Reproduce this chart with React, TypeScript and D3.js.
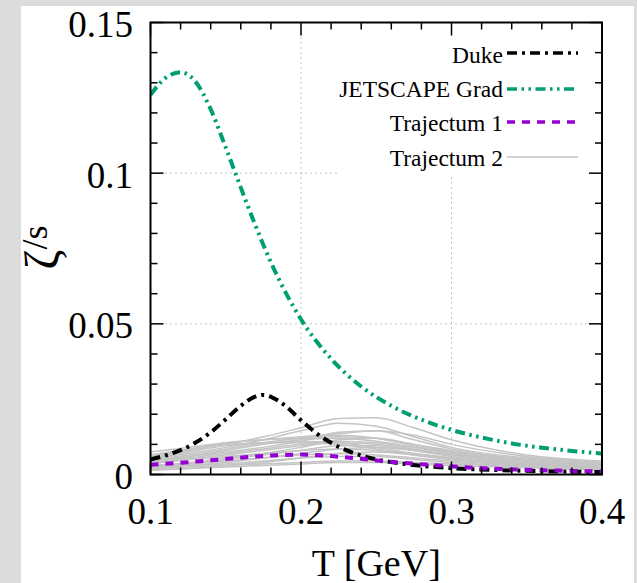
import React from "react";
import * as d3 from "d3";

// ---------- data ----------
const dukeT = [0.10, 0.11, 0.12, 0.13, 0.14, 0.15, 0.16, 0.17, 0.175, 0.18, 0.19, 0.20, 0.21, 0.22, 0.23, 0.24, 0.26, 0.28, 0.30, 0.33, 0.36, 0.40];
const dukeV = [0.0050, 0.0063, 0.0081, 0.0106, 0.0140, 0.0183, 0.0228, 0.0259, 0.0264, 0.0258, 0.0226, 0.0180, 0.0138, 0.0105, 0.0081, 0.0063, 0.0041, 0.0029, 0.0021, 0.0015, 0.0011, 0.0008];

const jsT = [0.10, 0.11, 0.12, 0.13, 0.14, 0.15, 0.16, 0.17, 0.18, 0.19, 0.20, 0.22, 0.24, 0.26, 0.28, 0.30, 0.32, 0.34, 0.36, 0.38, 0.40];
const jsV = [0.1260, 0.1316, 0.1335, 0.1303, 0.1212, 0.1085, 0.0952, 0.0823, 0.0704, 0.0602, 0.0515, 0.0384, 0.0292, 0.0228, 0.0182, 0.0148, 0.0123, 0.0103, 0.0089, 0.0078, 0.0070];

const traj1T = [0.10, 0.12, 0.14, 0.16, 0.18, 0.20, 0.22, 0.24, 0.26, 0.28, 0.30, 0.32, 0.34, 0.36, 0.38, 0.40];
const traj1V = [0.0032, 0.0039, 0.0047, 0.0056, 0.0063, 0.0066, 0.0061, 0.0052, 0.0042, 0.0034, 0.0027, 0.0021, 0.0017, 0.0014, 0.0012, 0.0010];

const traj2T = [0.10, 0.125, 0.15, 0.175, 0.20, 0.225, 0.25, 0.275, 0.30, 0.35, 0.40];
const traj2V = [
  [0.0065, 0.0080, 0.0100, 0.0125, 0.0155, 0.0186, 0.0188, 0.0155, 0.0115, 0.0065, 0.0045],
  [0.0055, 0.0070, 0.0090, 0.0115, 0.0145, 0.0170, 0.0160, 0.0125, 0.0090, 0.0055, 0.0040],
  [0.0075, 0.0090, 0.0105, 0.0115, 0.0125, 0.0135, 0.0145, 0.0130, 0.0100, 0.0060, 0.0040],
  [0.0060, 0.0080, 0.0105, 0.0115, 0.0120, 0.0125, 0.0120, 0.0100, 0.0080, 0.0050, 0.0035],
  [0.0050, 0.0065, 0.0085, 0.0105, 0.0120, 0.0130, 0.0120, 0.0095, 0.0070, 0.0045, 0.0030],
  [0.0045, 0.0060, 0.0080, 0.0100, 0.0115, 0.0120, 0.0110, 0.0090, 0.0070, 0.0045, 0.0032],
  [0.0040, 0.0055, 0.0070, 0.0085, 0.0100, 0.0110, 0.0105, 0.0090, 0.0075, 0.0050, 0.0035],
  [0.0035, 0.0050, 0.0065, 0.0080, 0.0095, 0.0105, 0.0100, 0.0085, 0.0065, 0.0040, 0.0028],
  [0.0030, 0.0040, 0.0055, 0.0070, 0.0090, 0.0115, 0.0120, 0.0100, 0.0075, 0.0045, 0.0030],
  [0.0055, 0.0075, 0.0095, 0.0105, 0.0110, 0.0105, 0.0090, 0.0070, 0.0055, 0.0035, 0.0025],
  [0.0025, 0.0035, 0.0050, 0.0065, 0.0080, 0.0095, 0.0095, 0.0080, 0.0060, 0.0038, 0.0025],
  [0.0020, 0.0030, 0.0040, 0.0055, 0.0070, 0.0085, 0.0090, 0.0080, 0.0065, 0.0045, 0.0035],
  [0.0040, 0.0050, 0.0060, 0.0070, 0.0080, 0.0085, 0.0080, 0.0070, 0.0055, 0.0035, 0.0025],
  [0.0015, 0.0020, 0.0030, 0.0040, 0.0055, 0.0070, 0.0075, 0.0065, 0.0050, 0.0030, 0.0020],
  [0.0030, 0.0035, 0.0045, 0.0055, 0.0065, 0.0070, 0.0065, 0.0055, 0.0045, 0.0030, 0.0020],
  [0.0015, 0.0020, 0.0025, 0.0030, 0.0035, 0.0040, 0.0040, 0.0035, 0.0030, 0.0022, 0.0015],
  [0.0020, 0.0025, 0.0030, 0.0035, 0.0040, 0.0045, 0.0045, 0.0040, 0.0035, 0.0025, 0.0018],
  [0.0065, 0.0085, 0.0100, 0.0105, 0.0105, 0.0100, 0.0085, 0.0065, 0.0050, 0.0032, 0.0023],
  [0.0045, 0.0060, 0.0075, 0.0090, 0.0110, 0.0140, 0.0145, 0.0115, 0.0085, 0.0050, 0.0035],
  [0.0025, 0.0030, 0.0035, 0.0045, 0.0055, 0.0060, 0.0060, 0.0050, 0.0040, 0.0028, 0.0020],
];

const xTicks = [0.1, 0.2, 0.3, 0.4];
const xTickLabels = ["0.1", "0.2", "0.3", "0.4"];
const yTicks = [0, 0.05, 0.1, 0.15];
const yTickLabels = ["0", "0.05", "0.1", "0.15"];
const legendLabels = ["Duke", "JETSCAPE Grad", "Trajectum 1", "Trajectum 2"];

// ---------- layout ----------
const W = 637, H = 583;
const X0 = 150.5, X1 = 602, Y0 = 22.5, Y1 = 474.5;
const FONT = "Liberation Serif, Times New Roman, serif";

const x = d3.scaleLinear().domain([0.1, 0.4]).range([X0, X1]);
const y = d3.scaleLinear().domain([0, 0.15]).range([Y1, Y0]);

const line = d3
  .line<[number, number]>()
  .x((d) => x(d[0]))
  .y((d) => y(d[1]))
  .curve(d3.curveMonotoneX);

const zip = (ts: number[], vs: number[]) => ts.map((t, i) => [t, vs[i]] as [number, number]);

const styles = [
  { color: "#000000", width: 4, dash: "10,5,3,5" },
  { color: "#009e73", width: 4, dash: "10,4.5,2.5,4.5,2.5,4.5" },
  { color: "#9400d3", width: 4, dash: "8,7" },
  { color: "#c4c4c4", width: 1.5, dash: "" },
];

const txt: React.CSSProperties = { fontFamily: FONT };

export default function App() {
  const xMinor = d3.range(0.1, 0.4001, 0.02);
  const yMinor = d3.range(0, 0.1501, 0.01);
  const TL = 13, TS = 7;
  const legX = 503;
  const legRows = [63, 97, 131, 166];
  const keyY = [53, 89, 122, 157];

  return (
    <svg
      width={W}
      height={H}
      style={{ position: "fixed", left: 0, top: 0, display: "block", fontFamily: FONT }}
    >
      <defs>
        <clipPath id="plotclip">
          <rect x={X0} y={Y0} width={X1 - X0} height={Y1 - Y0} />
        </clipPath>
      </defs>
      <rect x={0} y={0} width={W} height={H} fill="#dcdcdc" />
      <rect x={21} y={6} width={613} height={577} fill="#ffffff" />

      {/* grid */}
      <g stroke="#8a8a8a" strokeWidth={1} strokeDasharray="1,4">
        {[0.2, 0.3].map((t) => (
          <line key={"gx" + t} x1={x(t)} x2={x(t)} y1={Y0} y2={Y1} />
        ))}
        {[0.05, 0.1].map((v) => (
          <line key={"gy" + v} x1={X0} x2={X1} y1={y(v)} y2={y(v)} />
        ))}
      </g>

      {/* legend box (opaque) */}
      <rect x={338} y={Y0} width={X1 - 338} height={175 - Y0} fill="#ffffff" />

      {/* curves */}
      <g clipPath="url(#plotclip)" fill="none">
        {traj2V.map((vs, i) => (
          <path
            key={"t2" + i}
            d={line(zip(traj2T, vs)) || ""}
            stroke={styles[3].color}
            strokeWidth={styles[3].width}
          />
        ))}
        <path d={line(zip(dukeT, dukeV)) || ""} stroke={styles[0].color} strokeWidth={styles[0].width} strokeDasharray={styles[0].dash} />
        <path d={line(zip(jsT, jsV)) || ""} stroke={styles[1].color} strokeWidth={styles[1].width} strokeDasharray={styles[1].dash} />
        <path d={line(zip(traj1T, traj1V)) || ""} stroke={styles[2].color} strokeWidth={styles[2].width} strokeDasharray={styles[2].dash} />
      </g>

      {/* ticks */}
      <g stroke="#000" strokeWidth={1.5}>
        {xMinor.map((t, i) => {
          const major = Math.abs(((t - 0.1) / 0.1) - Math.round((t - 0.1) / 0.1)) < 1e-6;
          const L = major ? TL : TS;
          return (
            <g key={"xt" + i}>
              <line x1={x(t)} x2={x(t)} y1={Y1} y2={Y1 - L} />
              <line x1={x(t)} x2={x(t)} y1={Y0} y2={Y0 + L} />
            </g>
          );
        })}
        {yMinor.map((v, i) => {
          const major = Math.abs(v / 0.05 - Math.round(v / 0.05)) < 1e-6;
          const L = major ? TL : TS;
          return (
            <g key={"yt" + i}>
              <line x1={X0} x2={X0 + L} y1={y(v)} y2={y(v)} />
              <line x1={X1} x2={X1 - L} y1={y(v)} y2={y(v)} />
            </g>
          );
        })}
      </g>

      {/* frame */}
      <rect x={X0} y={Y0} width={X1 - X0} height={Y1 - Y0} fill="none" stroke="#000" strokeWidth={2} />

      {/* tick labels */}
      <g fill="#000">
        {xTicks.map((t, i) => (
          <text key={"xl" + i} x={x(t)} y={524} textAnchor="middle" fontSize={37} style={txt}>
            {xTickLabels[i]}
          </text>
        ))}
        {yTicks.map((v, i) => (
          <text key={"yl" + i} x={133} y={y(v) + 14.5} textAnchor="end" fontSize={37} style={txt}>
            {yTickLabels[i]}
          </text>
        ))}
      </g>

      {/* axis titles */}
      <text x={(X0 + X1) / 2} y={576} textAnchor="middle" fontSize={38} style={txt}>
        T [GeV]
      </text>
      <text transform="translate(58,247.5) rotate(-90)" textAnchor="middle" fontSize={48} style={txt}>
        <tspan>ζ</tspan>
        <tspan dy={-11} fontSize={36}>/s</tspan>
      </text>

      {/* legend */}
      <g>
        {legendLabels.map((lab, i) => (
          <g key={"lg" + i}>
            <text x={legX} y={legRows[i]} textAnchor="end" fontSize={23.5} style={txt}>
              {lab}
            </text>
            <line
              x1={507}
              x2={578}
              y1={keyY[i]}
              y2={keyY[i]}
              stroke={styles[i].color}
              strokeWidth={i === 3 ? 1.5 : 3.5}
              strokeDasharray={styles[i].dash}
            />
          </g>
        ))}
      </g>
    </svg>
  );
}
